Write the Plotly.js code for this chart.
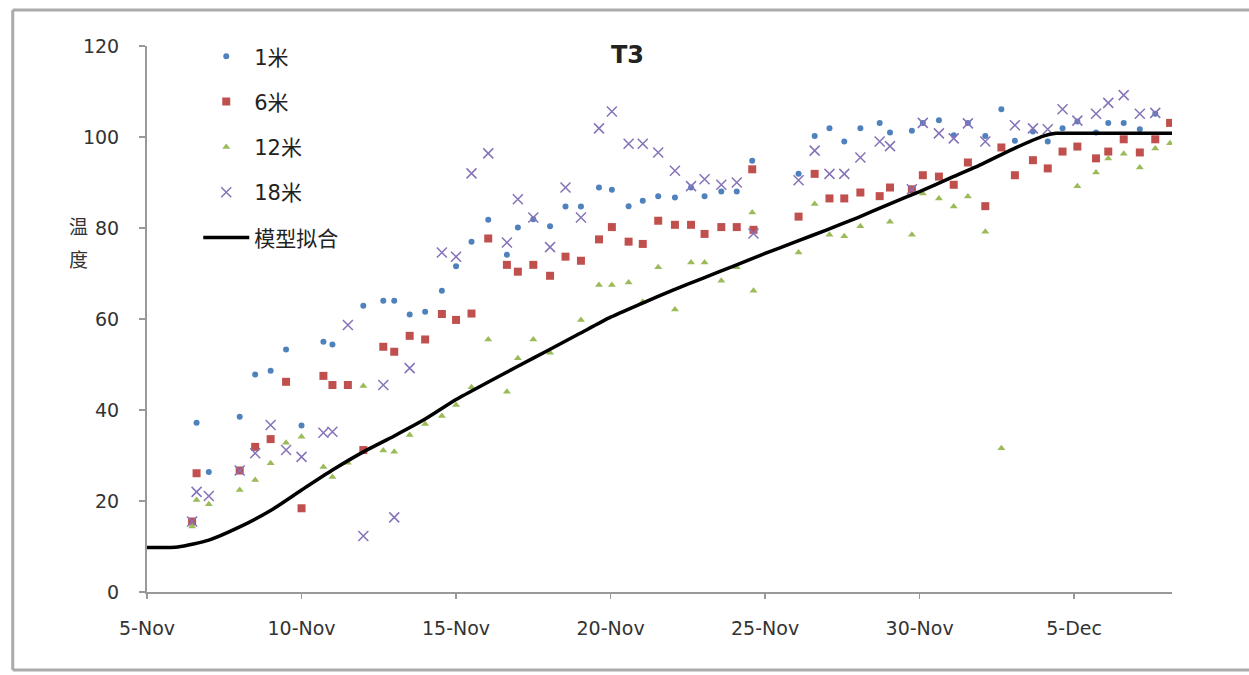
<!DOCTYPE html>
<html>
<head>
<meta charset="utf-8">
<script src="https://cdn.plot.ly/plotly-3.0.1.min.js"></script>
<style>html,body{margin:0;padding:0;background:#fff;}#chart{width:1249px;height:675px;}</style>
</head>
<body>
<div id="chart"></div>
<script>
// Measurement times (year assumed)
const times = [
  '2010-11-06 11:00','2010-11-06 14:30','2010-11-07 00:00','2010-11-08 00:00','2010-11-08 12:00',
  '2010-11-09 00:00','2010-11-09 12:00','2010-11-10 00:00','2010-11-10 17:00','2010-11-11 00:00',
  '2010-11-11 12:00','2010-11-12 00:00','2010-11-12 15:30','2010-11-13 00:00','2010-11-13 12:00',
  '2010-11-14 00:00','2010-11-14 13:00','2010-11-15 00:00','2010-11-15 12:00','2010-11-16 01:00',
  '2010-11-16 15:30','2010-11-17 00:00','2010-11-17 12:00','2010-11-18 01:00','2010-11-18 13:00',
  '2010-11-19 01:00','2010-11-19 15:00','2010-11-20 01:00','2010-11-20 14:00','2010-11-21 01:00',
  '2010-11-21 13:00','2010-11-22 02:00','2010-11-22 14:30','2010-11-23 01:00','2010-11-23 14:00',
  '2010-11-24 02:00','2010-11-24 14:00','2010-11-24 15:00','2010-11-26 02:00','2010-11-26 14:30',
  '2010-11-27 02:00','2010-11-27 13:30','2010-11-28 02:00','2010-11-28 17:00','2010-11-29 01:00',
  '2010-11-29 18:00','2010-11-30 02:30','2010-11-30 15:00','2010-12-01 02:30','2010-12-01 13:30',
  '2010-12-02 03:00','2010-12-02 15:30','2010-12-03 02:00','2010-12-03 16:00','2010-12-04 03:30',
  '2010-12-04 15:00','2010-12-05 02:30','2010-12-05 17:00','2010-12-06 02:30','2010-12-06 14:30',
  '2010-12-07 03:00','2010-12-07 15:00','2010-12-08 02:30'
];
const temp1m = [
  null,37.2,26.4,38.5,47.8,48.6,53.3,36.6,55.0,54.4,
  null,62.9,64.0,64.0,61.0,61.6,66.2,71.6,77.0,81.8,
  74.1,80.1,81.9,80.4,84.7,84.7,88.9,88.4,84.8,86.0,
  87.0,86.7,88.9,87.0,88.0,88.0,94.8,null,91.9,100.2,
  101.9,99.0,101.9,103.1,101.0,101.4,103.1,103.7,100.4,103.1,
  100.2,106.1,99.2,101.2,99.0,101.9,103.4,101.0,103.1,103.1,
  101.7,105.1,null
];
const temp6m = [
  15.5,26.1,null,26.7,31.9,33.6,46.2,18.4,47.5,45.5,
  45.5,31.2,53.9,52.8,56.3,55.5,61.1,59.8,61.2,77.7,
  71.9,70.4,71.9,69.5,73.7,72.8,77.5,80.2,77.0,76.5,
  81.6,80.7,80.7,78.7,80.2,80.2,92.9,79.6,82.5,91.9,
  86.5,86.5,87.8,87.0,88.9,88.5,91.6,91.3,89.5,94.4,
  84.8,97.7,91.6,94.9,93.1,96.8,97.9,95.3,96.8,99.5,
  96.6,99.5,103.1
];
const temp12m = [
  14.4,20.2,19.3,22.4,24.6,28.3,32.8,34.1,27.5,25.3,
  28.4,45.3,31.1,30.8,34.5,36.9,38.7,41.1,45.0,55.5,
  44.0,51.4,55.5,52.6,null,59.8,67.5,67.5,68.0,63.8,
  71.4,62.1,72.4,72.4,68.4,71.4,83.4,66.2,74.6,85.3,
  78.5,78.2,80.4,null,81.4,78.5,87.6,86.5,84.7,86.9,
  79.2,31.6,null,null,null,null,89.2,92.2,95.3,96.3,
  93.3,97.5,98.6
];
const temp18m = [
  15.5,22.0,21.1,26.7,30.5,36.7,31.2,29.7,35.0,35.2,
  58.7,12.3,45.5,16.4,49.2,null,74.6,73.7,92.0,96.4,
  76.8,86.3,82.3,75.8,88.9,82.3,101.9,105.6,98.5,98.5,
  96.6,92.6,89.2,90.7,89.5,90.0,null,78.8,90.5,97.0,
  91.9,91.9,95.5,99.0,98.0,88.5,103.1,100.8,99.7,103.0,
  99.0,null,102.6,101.9,101.7,106.1,103.6,105.1,107.5,109.2,
  105.1,105.3,null
];
const modelTimes = [
  '2010-11-05','2010-11-06','2010-11-07','2010-11-08','2010-11-09','2010-11-10',
  '2010-11-11','2010-11-12','2010-11-13','2010-11-14','2010-11-15','2010-11-16',
  '2010-11-17','2010-11-18','2010-11-19','2010-11-20','2010-11-21','2010-11-22',
  '2010-11-23','2010-11-24','2010-11-25','2010-11-26','2010-11-27','2010-11-28',
  '2010-11-29','2010-11-30','2010-12-01','2010-12-02','2010-12-03','2010-12-04',
  '2010-12-04 10:00','2010-12-05','2010-12-06','2010-12-07','2010-12-08 04:00'
];
const modelValues = [
  9.8,9.9,11.4,14.3,17.9,22.4,
  26.8,30.8,34.3,38.0,42.3,46.0,
  49.6,53.2,56.8,60.4,63.4,66.3,
  69.0,71.7,74.4,77.0,79.6,82.3,
  85.2,88.0,91.0,94.0,97.3,100.2,
  100.8,100.8,100.8,100.8,100.8
];
const seriesNames = ['1米','6米','12米','18米','模型拟合'];
const chartTitle = 'T3';
const yTitleChars = ['温','度'];

const fontFam = 'DejaVu Sans, Noto Sans CJK SC, sans-serif';
const traces = [
  {x: times, y: temp1m, name: seriesNames[0], type: 'scatter', mode: 'markers', legendgroup: 'a',
   marker: {symbol: 'circle', size: 6, color: '#4F81BD'}},
  {x: times, y: temp6m, name: seriesNames[1], type: 'scatter', mode: 'markers', legendgroup: 'b',
   marker: {symbol: 'square', size: 8, color: '#C0504D'}},
  {x: times, y: temp12m, name: seriesNames[2], type: 'scatter', mode: 'markers', legendgroup: 'c',
   marker: {symbol: 'triangle-up', size: 7, color: '#9BBB59'}},
  {x: times, y: temp18m, name: seriesNames[3], type: 'scatter', mode: 'markers', legendgroup: 'd',
   marker: {symbol: 'x-thin-open', size: 10, color: '#8672B8', line: {width: 1.5, color: '#8672B8'}}},
  {x: modelTimes, y: modelValues, name: seriesNames[4], type: 'scatter', mode: 'lines', legendgroup: 'e',
   line: {color: '#000', width: 3.5, shape: 'spline', smoothing: 0.6}}
];
const frameCol = '#ababab';
const layout = {
  width: 1249, height: 675,
  margin: {l: 147, r: 77, t: 46, b: 83},
  paper_bgcolor: '#fff', plot_bgcolor: '#fff',
  font: {family: fontFam, color: '#333', size: 14},
  showlegend: true,
  legend: {x: 0.05, y: 1.018, xanchor: 'left', yanchor: 'top', bgcolor: 'rgba(0,0,0,0)',
           font: {size: 21, color: '#222', family: fontFam}, tracegroupgap: 15, itemwidth: 46},
  xaxis: {type: 'date', range: ['2010-11-05', '2010-12-08 04:00'],
          tick0: '2010-11-05', dtick: 5*86400000, tickformat: '%-d-%b',
          showgrid: false, zeroline: false, showline: true, linecolor: '#999', linewidth: 2,
          ticks: 'outside', ticklen: 5, tickcolor: '#999', tickwidth: 1.5, ticklabelstandoff: 13,
          tickfont: {size: 19, color: '#333', family: fontFam}},
  yaxis: {range: [0, 120], dtick: 20, showgrid: false, zeroline: false, showline: true,
          linecolor: '#999', linewidth: 2, ticks: 'outside', ticklen: 6, tickcolor: '#999', tickwidth: 1.5,
          ticklabelstandoff: 16, tickfont: {size: 19, color: '#333', family: fontFam}},
  annotations: [
    {text: '<b>' + chartTitle + '</b>', xref: 'paper', yref: 'paper', x: 0.469, y: 0.983, yanchor: 'middle',
     showarrow: false, font: {size: 24, color: '#222', family: fontFam}},
    {text: yTitleChars[0], xref: 'paper', yref: 'paper', x: -0.078, y: 0.672, yanchor: 'middle', showarrow: false,
     font: {size: 19, color: '#333', family: 'Noto Sans CJK SC'}},
    {text: yTitleChars[1], xref: 'paper', yref: 'paper', x: -0.078, y: 0.61, yanchor: 'middle', showarrow: false,
     font: {size: 19, color: '#333', family: 'Noto Sans CJK SC'}}
  ],
  shapes: [
    {type: 'line', xref: 'paper', yref: 'paper', x0: -0.131, x1: 1.09, y0: 1.066, y1: 1.066, line: {color: frameCol, width: 3}},
    {type: 'line', xref: 'paper', yref: 'paper', x0: -0.131, x1: -0.131, y0: -0.143, y1: 1.066, line: {color: frameCol, width: 3}},
    {type: 'line', xref: 'paper', yref: 'paper', x0: -0.131, x1: 1.09, y0: -0.143, y1: -0.143, line: {color: frameCol, width: 3}}
  ]
};
Plotly.newPlot('chart', traces, layout, {displayModeBar: false, staticPlot: true});
</script>
</body>
</html>
